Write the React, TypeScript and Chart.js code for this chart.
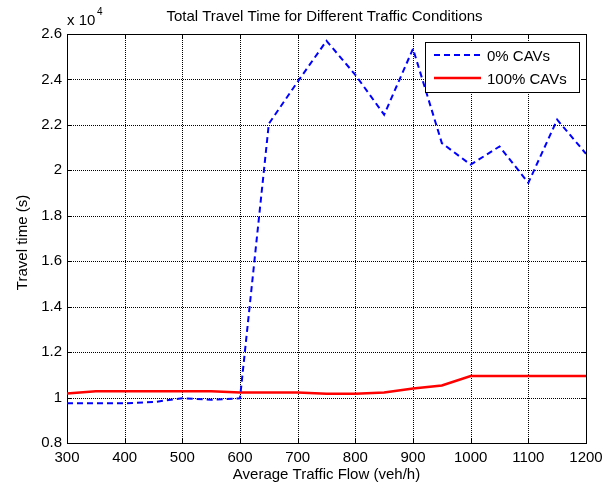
import React, { useEffect, useRef } from "react";
import { Chart, registerables } from "chart.js";

Chart.register(...registerables);

const flows = [300, 350, 400, 450, 500, 550, 600, 650, 700, 750, 800, 850, 900, 950, 1000, 1050, 1100, 1150, 1200];
const cav0 = [9750, 9750, 9750, 9800, 9970, 9900, 9970, 22050, 23900, 25700, 24200, 22450, 25350, 21200, 20250, 21050, 19450, 22230, 20730];
const cav100 = [10180, 10280, 10280, 10280, 10280, 10280, 10220, 10220, 10220, 10170, 10170, 10220, 10400, 10530, 10950, 10950, 10950, 10950, 10950];
const seriesNames = ["0% CAVs", "100% CAVs"];
const titleText = "Total Travel Time for Different Traffic Conditions";
const xLabel = "Average Traffic Flow (veh/h)";
const yLabel = "Travel time (s)";

const FONT = "'Liberation Sans', Arial, sans-serif";
const FS = 15;

const decor = {
  id: "decor",
  beforeDatasetsDraw(chart: any) {
    const { ctx, chartArea: a, scales } = chart;
    const x = scales.x;
    const y = scales.y;
    ctx.save();
    ctx.strokeStyle = "#000";
    ctx.lineWidth = 1;
    ctx.setLineDash([1, 1]);
    x.ticks.forEach((t: any) => {
      const px = Math.round(x.getPixelForValue(t.value)) + 0.5;
      ctx.beginPath();
      ctx.moveTo(px, a.top);
      ctx.lineTo(px, a.bottom);
      ctx.stroke();
    });
    y.ticks.forEach((t: any) => {
      const py = Math.round(y.getPixelForValue(t.value)) + 0.5;
      ctx.beginPath();
      ctx.moveTo(a.left, py);
      ctx.lineTo(a.right, py);
      ctx.stroke();
    });
    ctx.setLineDash([]);
    const tl = 5;
    x.ticks.forEach((t: any) => {
      const px = Math.round(x.getPixelForValue(t.value)) + 0.5;
      ctx.beginPath();
      ctx.moveTo(px, a.bottom);
      ctx.lineTo(px, a.bottom - tl);
      ctx.moveTo(px, a.top);
      ctx.lineTo(px, a.top + tl);
      ctx.stroke();
    });
    y.ticks.forEach((t: any) => {
      const py = Math.round(y.getPixelForValue(t.value)) + 0.5;
      ctx.beginPath();
      ctx.moveTo(a.left, py);
      ctx.lineTo(a.left + tl, py);
      ctx.moveTo(a.right, py);
      ctx.lineTo(a.right - tl, py);
      ctx.stroke();
    });
    ctx.strokeRect(Math.round(a.left) + 0.5, Math.round(a.top) + 0.5, Math.round(a.right - a.left), Math.round(a.bottom - a.top));
    ctx.restore();
  },
  afterDatasetsDraw(chart: any) {
    const { ctx, chartArea: a } = chart;
    ctx.save();
    const lx = Math.round(a.right) - 161, ly = Math.round(a.top) + 8, lw = 154, lh = 50;
    ctx.fillStyle = "#fff";
    ctx.fillRect(lx, ly, lw, lh);
    ctx.strokeStyle = "#000";
    ctx.lineWidth = 1;
    ctx.strokeRect(lx + 0.5, ly + 0.5, lw, lh);
    ctx.font = `${FS}px ${FONT}`;
    ctx.textBaseline = "alphabetic";
    ctx.textAlign = "left";
    chart.data.datasets.forEach((ds: any, i: number) => {
      const cy = ly + 13 + i * 23;
      ctx.save();
      ctx.strokeStyle = ds.borderColor;
      ctx.lineWidth = ds.borderWidth;
      ctx.setLineDash(ds.borderDash || []);
      ctx.beginPath();
      ctx.moveTo(lx + 9, cy);
      ctx.lineTo(lx + 56, cy);
      ctx.stroke();
      ctx.restore();
      ctx.fillStyle = "#000";
      ctx.fillText(ds.label, lx + 62, cy + 6);
    });
    ctx.restore();
  },
  afterDraw(chart: any) {
    const { ctx, chartArea: a } = chart;
    ctx.save();
    ctx.fillStyle = "#000";
    ctx.textAlign = "center";
    ctx.textBaseline = "alphabetic";
    ctx.font = `${FS}px ${FONT}`;
    ctx.fillText(titleText, (a.left + a.right) / 2 - 2, 21);
    ctx.fillText(xLabel, (a.left + a.right) / 2, 479);
    ctx.save();
    ctx.translate(27, (a.top + a.bottom) / 2 + 4);
    ctx.rotate(-Math.PI / 2);
    ctx.fillText(yLabel, 0, 0);
    ctx.restore();
    ctx.textAlign = "left";
    ctx.fillText("x 10", a.left, 25);
    ctx.font = `10px ${FONT}`;
    ctx.fillText("4", a.left + 30, 15);
    ctx.restore();
  },
};

export default function App() {
  const ref = useRef<HTMLCanvasElement | null>(null);
  useEffect(() => {
    if (!ref.current) return;
    const chart = new Chart(ref.current, {
      type: "line",
      data: {
        datasets: [
          {
            label: seriesNames[0],
            data: flows.map((f, i) => ({ x: f, y: cav0[i] })),
            borderColor: "#0000ff",
            borderWidth: 2,
            borderDash: [6, 4],
            pointRadius: 0,
            fill: false,
            tension: 0,
          },
          {
            label: seriesNames[1],
            data: flows.map((f, i) => ({ x: f, y: cav100[i] })),
            borderColor: "#ff0000",
            borderWidth: 2.5,
            pointRadius: 0,
            fill: false,
            tension: 0,
          },
        ],
      },
      options: {
        animation: false,
        responsive: false,
        devicePixelRatio: 1,
        layout: { padding: { left: 0, right: 27, top: 34, bottom: 0 } },
        plugins: { legend: { display: false }, title: { display: false }, tooltip: { enabled: false } },
        scales: {
          x: {
            type: "linear",
            min: 300,
            max: 1200,
            grid: { display: false, drawTicks: false },
            border: { display: false },
            ticks: {
              stepSize: 100,
              color: "#000",
              font: { family: FONT, size: FS },
              padding: 6,
              maxRotation: 0,
              callback: (v: any) => String(v),
            },
            afterFit: (s: any) => { s.height = 44; },
          },
          y: {
            type: "linear",
            min: 8000,
            max: 26000,
            grid: { display: false, drawTicks: false },
            border: { display: false },
            ticks: {
              stepSize: 2000,
              color: "#000",
              font: { family: FONT, size: FS },
              padding: 5,
              callback: (v: any) => String(+(Number(v) / 10000).toFixed(1)),
            },
            afterFit: (s: any) => { s.width = 67; },
          },
        },
      },
      plugins: [decor],
    });
    return () => chart.destroy();
  }, []);
  return (
    <div style={{ position: "fixed", left: 0, top: 0, width: 613, height: 487, background: "#fff" }}>
      <canvas ref={ref} width={613} height={487} />
    </div>
  );
}
